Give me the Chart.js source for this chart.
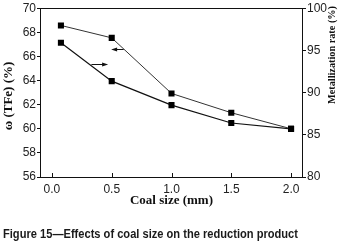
<!DOCTYPE html>
<html>
<head>
<meta charset="utf-8">
<script src="https://cdn.jsdelivr.net/npm/chart.js@4"></script>
<style>
html,body{margin:0;padding:0;background:#fff;}
#wrap{width:338px;height:244px;}
</style>
</head>
<body>
<div id="wrap"><canvas id="c" width="338" height="244"></canvas></div>
<script>
// ---- data ----
const coalSize = [0.075, 0.5, 1.0, 1.5, 2.0];
const tfe = [68.57, 67.54, 62.93, 61.33, 60.0];          // left axis, ω (TFe) (%)
const metallization = [95.9, 91.36, 88.52, 86.4, 85.7];  // right axis, Metallization rate (%)
const xTicks = [0, 0.5, 1.0, 1.5, 2.0];
const leftTicks = [56, 58, 60, 62, 64, 66, 68, 70];
const rightTicks = [80, 85, 90, 95, 100];
// arrows: [xFrom, xTo, y] in data units
const tfeArrow = [0.6, 0.495, 66.63];
const metArrow = [0.33, 0.47, 93.34];
const xTitle = 'Coal size (mm)';
const leftTitle = 'ω (TFe) (%)';
const rightTitle = 'Metallization rate (%)';
const caption = 'Figure 15\u2014Effects of coal size on the reduction product';

const decorPlugin = {
  id: 'decor',
  afterDraw(chart) {
    const ctx = chart.ctx;
    const a = chart.chartArea;
    const xs = chart.scales.x, yl = chart.scales.yL, yr = chart.scales.yR;
    ctx.save();
    // frame
    ctx.strokeStyle = '#111';
    ctx.lineWidth = 1;
    ctx.strokeRect(Math.round(a.left) + 0.5, Math.round(a.top) + 0.5, Math.round(a.right - a.left) - 1, Math.round(a.bottom - a.top));
    // inward x ticks
    ctx.beginPath();
    xTicks.forEach(v => {
      const px = Math.round(xs.getPixelForValue(v)) + 0.5;
      ctx.moveTo(px, a.bottom);
      ctx.lineTo(px, a.bottom - 4);
    });
    ctx.stroke();
    // arrows
    function arrow(x1, x2, y, scale) {
      const p1 = xs.getPixelForValue(x1), p2 = xs.getPixelForValue(x2);
      const py = Math.round(scale.getPixelForValue(y)) + 0.5;
      const dir = Math.sign(p2 - p1);
      ctx.beginPath();
      ctx.moveTo(p1, py);
      ctx.lineTo(p2 - dir * 4, py);
      ctx.stroke();
      ctx.beginPath();
      ctx.moveTo(p2, py);
      ctx.lineTo(p2 - dir * 6, py - 2);
      ctx.lineTo(p2 - dir * 6, py + 2);
      ctx.closePath();
      ctx.fillStyle = '#111';
      ctx.fill();
    }
    arrow(tfeArrow[0], tfeArrow[1], tfeArrow[2], yl);
    arrow(metArrow[0], metArrow[1], metArrow[2], yr);
    // axis titles
    ctx.fillStyle = '#111';
    ctx.textBaseline = 'middle';
    ctx.textAlign = 'center';
    ctx.font = 'bold 13px "Liberation Serif", "Times New Roman", serif';
    ctx.fillText(xTitle, (a.left + a.right) / 2, 201, 88);
    ctx.save();
    ctx.translate(9, 96);
    ctx.rotate(-Math.PI / 2);
    ctx.font = 'bold 13px "Liberation Serif", "Times New Roman", serif';
    ctx.fillText(leftTitle, 0, 0, 85);
    ctx.restore();
    ctx.save();
    ctx.translate(332, 55);
    ctx.rotate(-Math.PI / 2);
    ctx.font = 'bold 11px "Liberation Serif", "Times New Roman", serif';
    ctx.fillText(rightTitle, 0, 0, 98);
    ctx.restore();
    // caption
    ctx.textAlign = 'left';
    ctx.font = 'bold 12px "Liberation Sans", Arial, sans-serif';
    ctx.fillStyle = '#1a1a1a';
    ctx.fillText(caption, 3, 235, 295);
    ctx.restore();
  }
};

new Chart(document.getElementById('c'), {
  type: 'line',
  data: {
    datasets: [
      {
        data: coalSize.map((x, i) => ({x, y: tfe[i]})),
        yAxisID: 'yL',
        borderColor: '#333',
        borderWidth: 1,
        pointStyle: 'rect',
        pointRadius: 4.3,
        pointBackgroundColor: '#000',
        pointBorderColor: '#000',
        pointBorderWidth: 0,
        tension: 0
      },
      {
        data: coalSize.map((x, i) => ({x, y: metallization[i]})),
        yAxisID: 'yR',
        borderColor: '#111',
        borderWidth: 1.2,
        pointStyle: 'rect',
        pointRadius: 4.3,
        pointBackgroundColor: '#000',
        pointBorderColor: '#000',
        pointBorderWidth: 0,
        tension: 0
      }
    ]
  },
  options: {
    responsive: false,
    animation: false,
    events: [],
    layout: {padding: {top: 8, left: 0, right: 0, bottom: 0}},
    plugins: {legend: {display: false}, tooltip: {enabled: false}, title: {display: false}},
    scales: {
      x: {
        type: 'linear',
        min: -0.1, max: 2.1,
        afterBuildTicks: s => { s.ticks = xTicks.map(v => ({value: v})); },
        afterFit: s => { s.height = 67; },
        grid: {display: false, drawTicks: false},
        border: {display: false},
        ticks: {
          padding: 5,
          color: '#222',
          font: {family: '"Liberation Sans", Arial, sans-serif', size: 12},
          callback: v => v.toFixed(1),
          maxRotation: 0
        }
      },
      yL: {
        position: 'left',
        min: 56, max: 70,
        afterBuildTicks: s => { s.ticks = leftTicks.map(v => ({value: v})); },
        afterFit: s => { s.width = 40; },
        grid: {drawOnChartArea: false, tickLength: 3, color: '#111'},
        border: {display: false},
        ticks: {
          padding: 1,
          color: '#222',
          font: {family: '"Liberation Sans", Arial, sans-serif', size: 12}
        }
      },
      yR: {
        position: 'right',
        min: 80, max: 100,
        afterBuildTicks: s => { s.ticks = rightTicks.map(v => ({value: v})); },
        afterFit: s => { s.width = 35; },
        grid: {drawOnChartArea: false, tickLength: 3, color: '#111'},
        border: {display: false},
        ticks: {
          padding: 1,
          color: '#222',
          font: {family: '"Liberation Sans", Arial, sans-serif', size: 12}
        }
      }
    }
  },
  plugins: [decorPlugin]
});
</script>
</body>
</html>
